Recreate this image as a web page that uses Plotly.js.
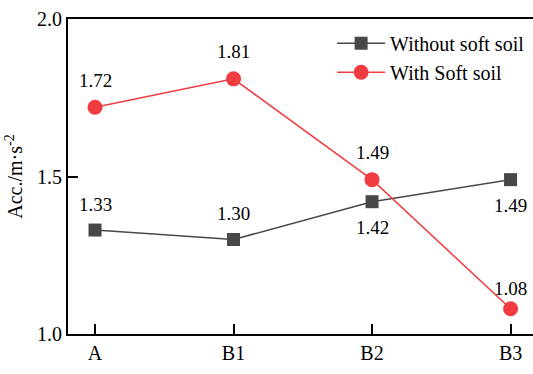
<!DOCTYPE html>
<html><head><meta charset="utf-8">
<script src="https://cdn.plot.ly/plotly-3.0.1.min.js"></script>
<style>html,body{margin:0;padding:0;background:#fff;overflow:hidden}</style>
</head><body><div id="chart" style="width:533px;height:374px"></div>
<script>
const categories = ['A', 'B1', 'B2', 'B3'];
const withoutSoft = [1.33, 1.30, 1.42, 1.49];
const withSoft = [1.72, 1.81, 1.49, 1.08];
const withoutLabelSide = [1, 1, -1, -1];
const withLabelSide = [1, 1, 1, -0.75];

const font = 'Liberation Serif';
const grey = '#484848';
const red = '#f03c40';

const traces = [
  {x: categories, y: withoutSoft, name: 'Without soft soil', mode: 'lines+markers',
   line: {color: grey, width: 1.5}, marker: {symbol: 'square', size: 13, color: grey}},
  {x: categories, y: withSoft, name: 'With Soft soil', mode: 'lines+markers',
   line: {color: red, width: 1.5}, marker: {symbol: 'circle', size: 15, color: red}}
];

const annotations = [];
categories.forEach((c, i) => {
  annotations.push({x: c, y: withoutSoft[i], text: withoutSoft[i].toFixed(2), showarrow: false,
    yshift: 26 * withoutLabelSide[i], font: {family: font, size: 19, color: '#000'}});
  annotations.push({x: c, y: withSoft[i], text: withSoft[i].toFixed(2), showarrow: false,
    yshift: withLabelSide[i] > 0 ? 27 : 20, font: {family: font, size: 19, color: '#000'}});
});

const layout = {
  width: 533, height: 374,
  margin: {l: 68, r: 0, t: 19, b: 40},
  paper_bgcolor: '#fff', plot_bgcolor: '#fff',
  font: {family: font, size: 19, color: '#000'},
  showlegend: true,
  legend: {x: 0.568, y: 0.985, xanchor: 'left', yanchor: 'top', bgcolor: 'rgba(0,0,0,0)',
    font: {family: font, size: 20, color: '#000'}, tracegroupgap: 0, itemwidth: 48},
  xaxis: {type: 'category', range: [-0.195, 3.162], showgrid: false, zeroline: false,
    showline: true, linecolor: '#000', linewidth: 2, mirror: true,
    ticks: 'inside', ticklen: 10, tickwidth: 2, tickcolor: '#000',
    tickfont: {family: font, size: 20, color: '#000'}},
  yaxis: {range: [1.0, 2.0], tickvals: [1.0, 1.5, 2.0], ticktext: ['1.0', '1.5', '2.0'],
    showgrid: false, zeroline: false, showline: true, linecolor: '#000', linewidth: 2, mirror: true,
    ticks: 'inside', ticklen: 10, tickwidth: 2, tickcolor: '#000',
    tickfont: {family: font, size: 20, color: '#000'},
    title: {text: 'Acc./m·s<sup>-2</sup>', font: {family: font, size: 20, color: '#000'}, standoff: 9}},
  annotations: annotations
};

Plotly.newPlot('chart', traces, layout, {displayModeBar: false, staticPlot: true});
</script></body></html>
